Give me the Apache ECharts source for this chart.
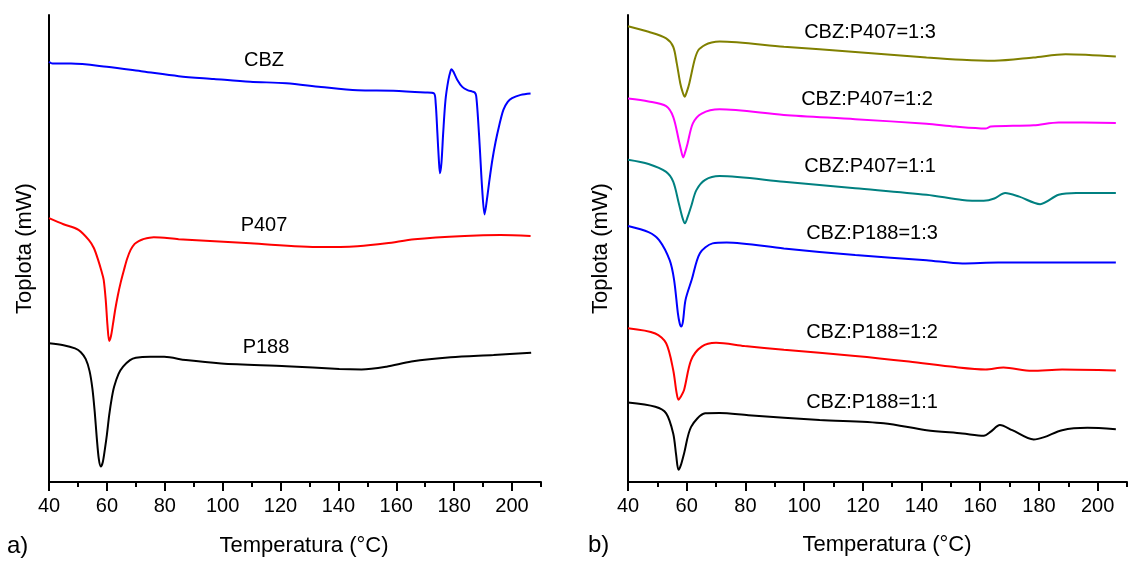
<!DOCTYPE html>
<html>
<head>
<meta charset="utf-8">
<script src="https://cdn.jsdelivr.net/npm/echarts@6/dist/echarts.min.js"></script>
<style>
html,body{margin:0;padding:0;background:#fff;}
#chart{width:1130px;height:563px;}
</style>
</head>
<body>
<div id="chart"></div>
<script>
// ---------- DATA (temperature in °C, heat flow in arbitrary units) ----------
var majorTicks = [40, 60, 80, 100, 120, 140, 160, 180, 200];
var minorTicks = [50, 70, 90, 110, 130, 150, 170, 190, 210];

// panel a)
var cbzT = [40, 41.2, 47.6, 60, 72.5, 84.8, 97, 109.5, 122, 134, 146.6, 159, 170, 173, 173.6, 174.2, 174.7, 175.1, 175.6, 176.2, 177, 178, 178.8, 179.1, 179.7, 181.1, 182.8, 184.6, 186.3, 187.1, 187.6, 188.2, 188.9, 189.7, 190.5, 191.3, 192.2, 193.2, 194.3, 195.5, 197, 198.5, 200, 203, 206.4];
var cbzV = [90.0, 89.6, 89.6, 88.9, 87.9, 86.9, 86.3, 85.7, 85.4, 84.6, 83.9, 83.8, 83.4, 83.2, 81.2, 74.7, 69.0, 66.1, 68.3, 74.7, 81.8, 86.1, 88.1, 88.4, 87.9, 86.1, 84.6, 83.9, 83.6, 83.4, 82.7, 78.2, 71.1, 62.5, 57.3, 60.4, 64.7, 69.0, 72.8, 76.2, 79.7, 81.4, 82.2, 82.9, 83.2];

var p407T = [40, 45, 50.2, 53.8, 55.5, 57, 58.2, 58.9, 59.6, 60.2, 60.8, 61.4, 62.1, 62.9, 63.8, 64.8, 65.9, 67, 68.2, 69.6, 71, 72.5, 76.2, 84.8, 109.6, 134.1, 146.6, 156.6, 166.3, 183.6, 196, 206.4];
var p407V = [56.5, 55.2, 54.0, 51.8, 50.1, 47.5, 45.0, 43.3, 39.0, 33.6, 30.2, 31.2, 33.8, 37.0, 40.0, 42.8, 45.4, 47.8, 49.7, 51.0, 51.6, 52.0, 52.4, 52.0, 51.1, 50.3, 50.5, 51.1, 52.0, 52.7, 52.9, 52.7];

var p188T = [40, 45, 49, 51, 52.7, 54, 55, 55.8, 56.5, 57.2, 57.9, 58.6, 59.3, 60, 60.8, 61.7, 62.5, 64, 65.6, 68, 70, 75, 79.8, 87.3, 99.5, 122, 140.3, 148, 156.6, 165.2, 178.8, 193.6, 206.6];
var p188V = [29.7, 29.3, 28.6, 27.8, 26.3, 23.8, 20.0, 15.0, 9.5, 5.0, 3.3, 4.3, 7.0, 10.1, 14.3, 18.0, 20.4, 23.1, 24.7, 26.1, 26.6, 26.8, 26.8, 26.1, 25.4, 24.8, 24.2, 24.1, 24.7, 25.8, 26.7, 27.2, 27.7];

// panel b)
var m407_13T = [40, 47, 53, 55.4, 56.6, 57.8, 58.6, 59.3, 60.0, 60.9, 62.7, 64, 66.3, 68.5, 71.2, 93.1, 117.4, 141.7, 153.9, 164.8, 178.1, 189.1, 206.2];
var m407_13V = [97.6, 96.4, 95.0, 93.2, 89.7, 85.4, 83.5, 82.5, 83.5, 85.4, 90.4, 92.5, 93.6, 94.1, 94.3, 93.2, 92.1, 90.9, 90.4, 90.2, 90.9, 91.6, 91.1];

var m407_12T = [40, 47, 53, 55.4, 57.3, 58.2, 58.8, 59.5, 60.3, 62.1, 65.1, 71.2, 93.1, 117.4, 141.7, 151.5, 161.8, 163.6, 178.2, 186.7, 206.2];
var m407_12V = [82.1, 81.5, 80.5, 78.2, 73.2, 70.7, 69.5, 70.7, 72.5, 76.8, 78.9, 79.8, 78.6, 77.7, 76.7, 76.1, 75.7, 76.1, 76.4, 77.0, 76.9];

var m407_11T = [40, 47, 53, 55.4, 57.3, 58.6, 59.4, 60.3, 61.5, 63.3, 66.3, 71.2, 93.1, 117.4, 141.7, 153.9, 161.2, 164.8, 168.5, 173.3, 180.4, 186.7, 192.7, 206.2];
var m407_11V = [69.0, 68.1, 66.4, 64.3, 59.7, 56.5, 55.4, 56.7, 59.0, 62.5, 64.7, 65.5, 64.3, 62.9, 61.5, 60.4, 60.2, 60.7, 61.9, 61.1, 59.5, 61.5, 61.9, 61.9];

var m188_13T = [40, 47, 50.6, 54.2, 55.7, 57, 57.6, 58.1, 58.7, 59.6, 61.7, 64.5, 68.8, 73.6, 93.1, 117.4, 141.7, 153.9, 166.1, 178.2, 206.2];
var m188_13V = [54.8, 53.5, 51.8, 47.5, 43.3, 36.1, 34.0, 33.3, 34.3, 39.0, 43.3, 49.0, 51.1, 51.3, 50.0, 48.6, 47.5, 46.8, 47.0, 47.0, 47.0];

var m188_12T = [40, 49.3, 53, 55.4, 56.5, 57.2, 57.9, 59.1, 61.5, 65.1, 70, 79.7, 93.1, 117.4, 135.7, 151.5, 161.8, 167.9, 177.6, 187.9, 206.2];
var m188_12V = [32.9, 31.8, 29.7, 24.0, 19.3, 17.6, 18.2, 19.7, 26.1, 29.0, 29.8, 29.1, 28.3, 27.0, 25.8, 24.6, 24.1, 24.5, 23.8, 24.1, 23.9];

var m188_11T = [40, 49.3, 53, 55.4, 56.4, 57.2, 58, 59.1, 61.5, 66.3, 71.2, 81, 105.3, 127.1, 141.7, 153.9, 161.2, 163.6, 166.7, 170.9, 178.2, 181.8, 187.9, 196.5, 206.2];
var m188_11V = [17.0, 16.1, 14.7, 10.4, 5.8, 2.6, 3.6, 6.1, 11.8, 14.7, 14.8, 14.3, 13.3, 12.6, 11.1, 10.4, 9.9, 10.8, 12.2, 11.1, 9.1, 9.6, 11.1, 11.6, 11.3];

var namesA = ['CBZ', 'P407', 'P188'];
var namesB = ['CBZ:P407=1:3', 'CBZ:P407=1:2', 'CBZ:P407=1:1', 'CBZ:P188=1:3', 'CBZ:P188=1:2', 'CBZ:P188=1:1'];
var xName = 'Temperatura (°C)';
var yName = 'Toplota (mW)';

// ---------- CHART ----------
function zip(t, v) { return t.map(function (x, i) { return [x, v[i]]; }); }
var FONT = '"Liberation Sans", Arial, sans-serif';

var chart = echarts.init(document.getElementById('chart'), null, { renderer: 'canvas' });

function mainX(gi) {
  return {
    type: 'value', gridIndex: gi, min: 40, max: 210, interval: 10, position: 'bottom',
    axisLine: { show: true, onZero: false, lineStyle: { color: '#000', width: 2 } },
    axisTick: { show: true, inside: false, length: 9, customValues: majorTicks, lineStyle: { color: '#000', width: 2 } },
    axisLabel: { show: true, customValues: majorTicks, margin: 14, color: '#000', fontSize: 20, fontFamily: FONT },
    splitLine: { show: false }
  };
}
function minorX(gi) {
  return {
    type: 'value', gridIndex: gi, min: 40, max: 210, interval: 10, position: 'bottom', offset: 0,
    axisLine: { show: false, onZero: false },
    axisTick: { show: true, inside: false, length: 5, customValues: minorTicks, lineStyle: { color: '#000', width: 2 } },
    axisLabel: { show: false },
    splitLine: { show: false }
  };
}
function yAx(gi, gap) {
  return {
    type: 'value', gridIndex: gi, min: 0, max: 100,
    name: yName, nameLocation: 'middle', nameRotate: 90, nameGap: gap,
    nameTextStyle: { color: '#000', fontSize: 22, fontFamily: FONT },
    axisLine: { show: true, onZero: false, lineStyle: { color: '#000', width: 2 } },
    axisTick: { show: false }, axisLabel: { show: false }, splitLine: { show: false }
  };
}
function line(name, xi, yi, color, t, v) {
  return {
    name: name, type: 'line', xAxisIndex: xi, yAxisIndex: yi, data: zip(t, v),
    showSymbol: false, symbol: 'none', smooth: 0.3,
    lineStyle: { color: color, width: 2 }, itemStyle: { color: color }, silent: true, animation: false
  };
}
function txt(x, y, s, size) {
  return { type: 'text', x: x, y: y, style: { text: s, fill: '#000', font: size + 'px ' + FONT, align: 'center', verticalAlign: 'middle' }, silent: true };
}

chart.setOption({
  animation: false,
  backgroundColor: '#fff',
  grid: [
    { left: 49, top: 15, width: 492, height: 467 },
    { left: 628, top: 15, width: 499, height: 467 }
  ],
  xAxis: [mainX(0), minorX(0), mainX(1), minorX(1)],
  yAxis: [yAx(0, 13), yAx(1, 16)],
  series: [
    line(namesA[0], 0, 0, '#0000ff', cbzT, cbzV),
    line(namesA[1], 0, 0, '#ff0000', p407T, p407V),
    line(namesA[2], 0, 0, '#000000', p188T, p188V),
    line(namesB[0], 2, 1, '#808000', m407_13T, m407_13V),
    line(namesB[1], 2, 1, '#ff00ff', m407_12T, m407_12V),
    line(namesB[2], 2, 1, '#008080', m407_11T, m407_11V),
    line(namesB[3], 2, 1, '#0000ff', m188_13T, m188_13V),
    line(namesB[4], 2, 1, '#ff0000', m188_12T, m188_12V),
    line(namesB[5], 2, 1, '#000000', m188_11T, m188_11V)
  ],
  graphic: [
    txt(264, 60, namesA[0], 20),
    txt(264, 225, namesA[1], 20),
    txt(266, 347, namesA[2], 20),
    txt(870, 32, namesB[0], 20),
    txt(867, 99, namesB[1], 20),
    txt(870, 166, namesB[2], 20),
    txt(872, 233, namesB[3], 20),
    txt(872, 332, namesB[4], 20),
    txt(872, 402, namesB[5], 20),
    txt(304, 546, xName, 22),
    txt(887, 545, xName, 22),
    { type: 'text', x: 7, y: 546, style: { text: 'a)', fill: '#000', font: '24px ' + FONT, align: 'left', verticalAlign: 'middle' } },
    { type: 'text', x: 588, y: 545, style: { text: 'b)', fill: '#000', font: '24px ' + FONT, align: 'left', verticalAlign: 'middle' } }
  ]
});
</script>
</body>
</html>
